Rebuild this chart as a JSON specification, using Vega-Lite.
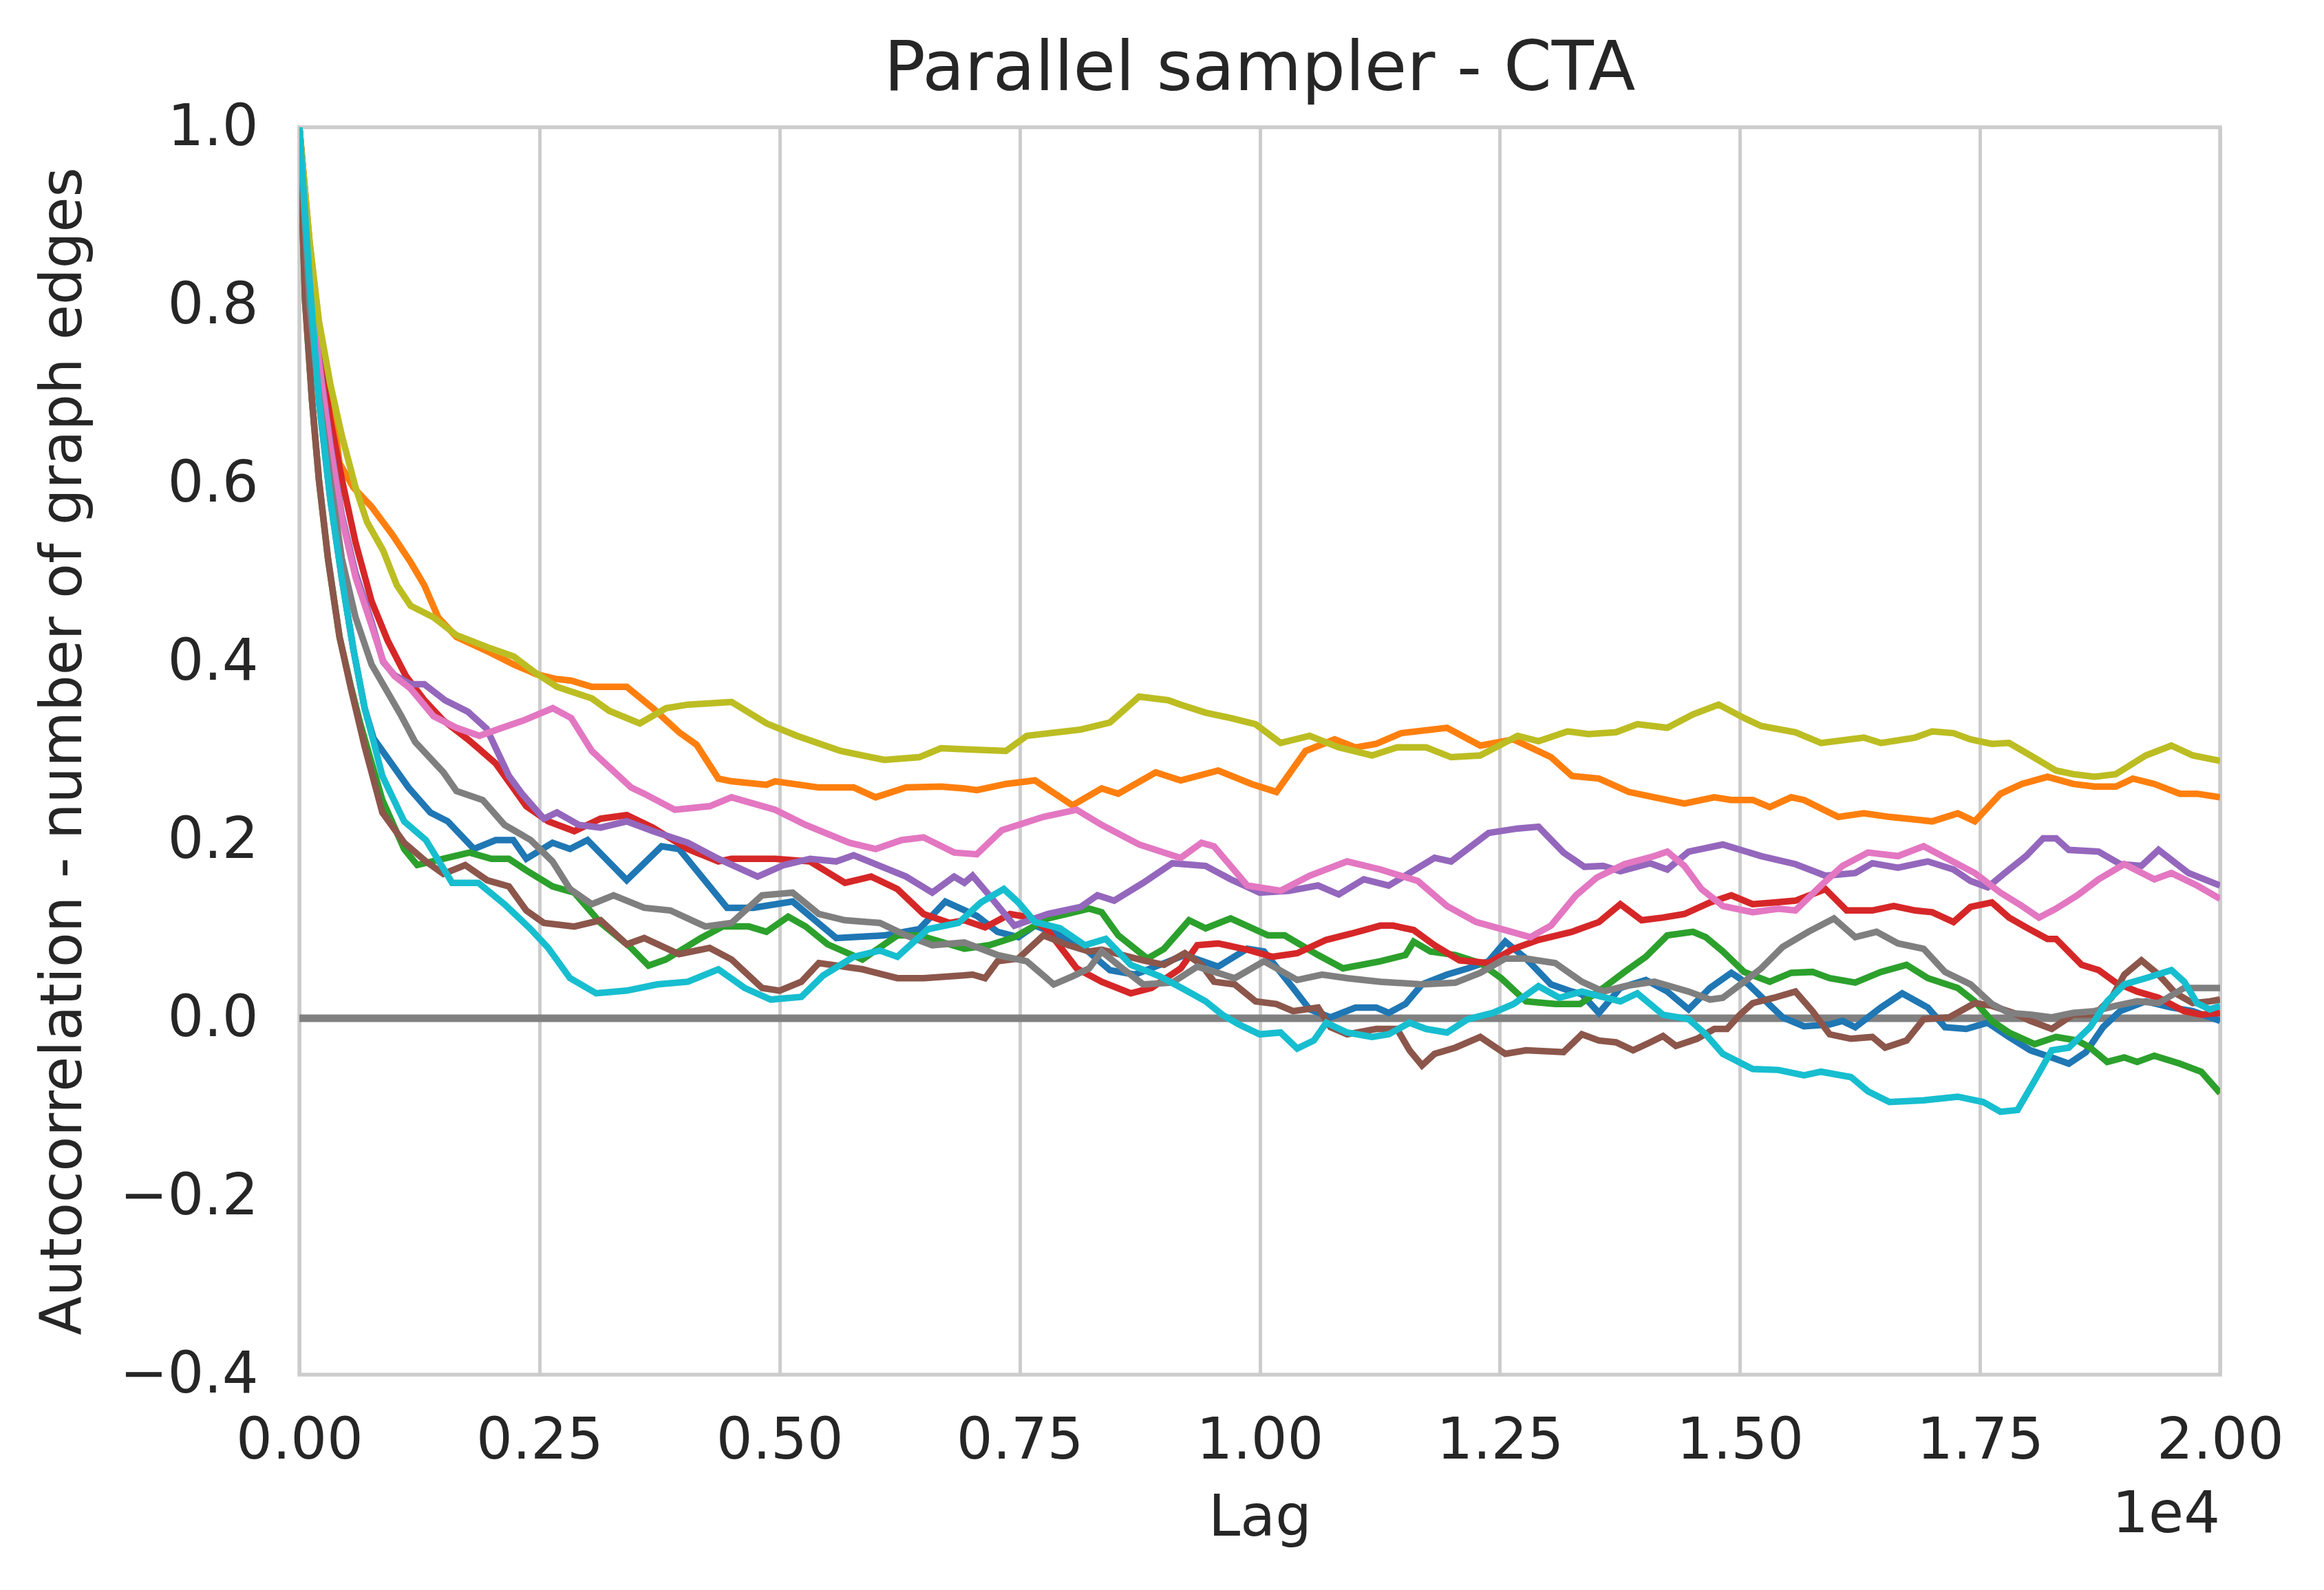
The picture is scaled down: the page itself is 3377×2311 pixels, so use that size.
{
  "$schema": "https://vega.github.io/schema/vega-lite/v6.json",
  "autosize": {"type": "none"},
  "padding": {"left": 435, "top": 185, "right": 151, "bottom": 313},
  "width": 2791,
  "height": 1813,
  "background": "white",
  "title": {"text": "Parallel sampler - CTA", "font": "DejaVu Sans", "fontSize": 100, "fontWeight": "normal", "color": "#262626", "anchor": "middle", "frame": "group", "offset": -8},
  "config": {
    "view": {"stroke": "#cccccc", "strokeWidth": 5.5},
    "axis": {"gridColor": "#cccccc", "gridWidth": 5, "domain": false, "ticks": false, "tickSize": 0, "labelFont": "DejaVu Sans", "labelFontSize": 83, "labelColor": "#262626", "labelLimit": 0, "titleFont": "DejaVu Sans", "titleFontSize": 83, "titleFontWeight": "normal", "titleColor": "#262626", "titleLimit": 0, "labelOverlap": false, "labelFlush": false, "labelBound": false}
  },
  "datasets": {
    "acf": [
      {"chain":"0","lag":0,"acf":1.0},{"chain":"0","lag":107,"acf":0.83},{"chain":"0","lag":203,"acf":0.694},{"chain":"0","lag":322,"acf":0.583},{"chain":"0","lag":442,"acf":0.494},{"chain":"0","lag":561,"acf":0.415},{"chain":"0","lag":680,"acf":0.348},{"chain":"0","lag":773,"acf":0.314},{"chain":"0","lag":1136,"acf":0.259},{"chain":"0","lag":1364,"acf":0.231},{"chain":"0","lag":1545,"acf":0.221},{"chain":"0","lag":1818,"acf":0.19},{"chain":"0","lag":2045,"acf":0.2},{"chain":"0","lag":2227,"acf":0.2},{"chain":"0","lag":2363,"acf":0.179},{"chain":"0","lag":2636,"acf":0.197},{"chain":"0","lag":2818,"acf":0.19},{"chain":"0","lag":3000,"acf":0.2},{"chain":"0","lag":3409,"acf":0.155},{"chain":"0","lag":3772,"acf":0.193},{"chain":"0","lag":3954,"acf":0.19},{"chain":"0","lag":4454,"acf":0.124},{"chain":"0","lag":4727,"acf":0.124},{"chain":"0","lag":5136,"acf":0.131},{"chain":"0","lag":5590,"acf":0.09},{"chain":"0","lag":6090,"acf":0.093},{"chain":"0","lag":6454,"acf":0.1},{"chain":"0","lag":6727,"acf":0.131},{"chain":"0","lag":7054,"acf":0.115},{"chain":"0","lag":7270,"acf":0.097},{"chain":"0","lag":7487,"acf":0.091},{"chain":"0","lag":7660,"acf":0.104},{"chain":"0","lag":7920,"acf":0.093},{"chain":"0","lag":8180,"acf":0.078},{"chain":"0","lag":8440,"acf":0.054},{"chain":"0","lag":8700,"acf":0.049},{"chain":"0","lag":8960,"acf":0.06},{"chain":"0","lag":9220,"acf":0.071},{"chain":"0","lag":9567,"acf":0.058},{"chain":"0","lag":9870,"acf":0.078},{"chain":"0","lag":10044,"acf":0.075},{"chain":"0","lag":10347,"acf":0.034},{"chain":"0","lag":10520,"acf":0.01},{"chain":"0","lag":10737,"acf":0.001},{"chain":"0","lag":10997,"acf":0.012},{"chain":"0","lag":11213,"acf":0.012},{"chain":"0","lag":11343,"acf":0.006},{"chain":"0","lag":11517,"acf":0.016},{"chain":"0","lag":11690,"acf":0.038},{"chain":"0","lag":11950,"acf":0.049},{"chain":"0","lag":12167,"acf":0.056},{"chain":"0","lag":12383,"acf":0.064},{"chain":"0","lag":12557,"acf":0.086},{"chain":"0","lag":12773,"acf":0.067},{"chain":"0","lag":13033,"acf":0.038},{"chain":"0","lag":13250,"acf":0.03},{"chain":"0","lag":13354,"acf":0.027},{"chain":"0","lag":13532,"acf":0.006},{"chain":"0","lag":13755,"acf":0.034},{"chain":"0","lag":14021,"acf":0.043},{"chain":"0","lag":14244,"acf":0.03},{"chain":"0","lag":14466,"acf":0.01},{"chain":"0","lag":14689,"acf":0.034},{"chain":"0","lag":14911,"acf":0.051},{"chain":"0","lag":15089,"acf":0.038},{"chain":"0","lag":15445,"acf":0.001},{"chain":"0","lag":15667,"acf":-0.009},{"chain":"0","lag":15934,"acf":-0.007},{"chain":"0","lag":16068,"acf":-0.003},{"chain":"0","lag":16201,"acf":-0.01},{"chain":"0","lag":16468,"acf":0.012},{"chain":"0","lag":16690,"acf":0.028},{"chain":"0","lag":16957,"acf":0.012},{"chain":"0","lag":17135,"acf":-0.01},{"chain":"0","lag":17357,"acf":-0.012},{"chain":"0","lag":17580,"acf":-0.005},{"chain":"0","lag":17802,"acf":-0.021},{"chain":"0","lag":18025,"acf":-0.036},{"chain":"0","lag":18247,"acf":-0.044},{"chain":"0","lag":18425,"acf":-0.051},{"chain":"0","lag":18603,"acf":-0.038},{"chain":"0","lag":18781,"acf":-0.01},{"chain":"0","lag":18959,"acf":0.008},{"chain":"0","lag":19226,"acf":0.019},{"chain":"0","lag":19493,"acf":0.012},{"chain":"0","lag":19715,"acf":0.008},{"chain":"0","lag":20000,"acf":-0.003},

      {"chain":"1","lag":0,"acf":1.0},{"chain":"1","lag":107,"acf":0.87},{"chain":"1","lag":203,"acf":0.78},{"chain":"1","lag":322,"acf":0.705},{"chain":"1","lag":418,"acf":0.623},{"chain":"1","lag":561,"acf":0.596},{"chain":"1","lag":752,"acf":0.574},{"chain":"1","lag":967,"acf":0.543},{"chain":"1","lag":1158,"acf":0.512},{"chain":"1","lag":1301,"acf":0.486},{"chain":"1","lag":1445,"acf":0.45},{"chain":"1","lag":1636,"acf":0.428},{"chain":"1","lag":1994,"acf":0.41},{"chain":"1","lag":2233,"acf":0.397},{"chain":"1","lag":2472,"acf":0.386},{"chain":"1","lag":2663,"acf":0.381},{"chain":"1","lag":2830,"acf":0.379},{"chain":"1","lag":3045,"acf":0.372},{"chain":"1","lag":3409,"acf":0.372},{"chain":"1","lag":3681,"acf":0.348},{"chain":"1","lag":3954,"acf":0.321},{"chain":"1","lag":4136,"acf":0.307},{"chain":"1","lag":4363,"acf":0.269},{"chain":"1","lag":4500,"acf":0.266},{"chain":"1","lag":4863,"acf":0.262},{"chain":"1","lag":4954,"acf":0.266},{"chain":"1","lag":5409,"acf":0.259},{"chain":"1","lag":5772,"acf":0.259},{"chain":"1","lag":6000,"acf":0.248},{"chain":"1","lag":6318,"acf":0.259},{"chain":"1","lag":6681,"acf":0.26},{"chain":"1","lag":6924,"acf":0.258},{"chain":"1","lag":7054,"acf":0.256},{"chain":"1","lag":7357,"acf":0.263},{"chain":"1","lag":7660,"acf":0.267},{"chain":"1","lag":8050,"acf":0.239},{"chain":"1","lag":8354,"acf":0.258},{"chain":"1","lag":8527,"acf":0.252},{"chain":"1","lag":8917,"acf":0.276},{"chain":"1","lag":9177,"acf":0.267},{"chain":"1","lag":9567,"acf":0.278},{"chain":"1","lag":9914,"acf":0.263},{"chain":"1","lag":10174,"acf":0.254},{"chain":"1","lag":10477,"acf":0.3},{"chain":"1","lag":10780,"acf":0.313},{"chain":"1","lag":10997,"acf":0.304},{"chain":"1","lag":11213,"acf":0.308},{"chain":"1","lag":11473,"acf":0.32},{"chain":"1","lag":11950,"acf":0.326},{"chain":"1","lag":12297,"acf":0.306},{"chain":"1","lag":12643,"acf":0.313},{"chain":"1","lag":13033,"acf":0.293},{"chain":"1","lag":13250,"acf":0.272},{"chain":"1","lag":13532,"acf":0.269},{"chain":"1","lag":13843,"acf":0.254},{"chain":"1","lag":14110,"acf":0.248},{"chain":"1","lag":14422,"acf":0.241},{"chain":"1","lag":14733,"acf":0.248},{"chain":"1","lag":14911,"acf":0.245},{"chain":"1","lag":15133,"acf":0.245},{"chain":"1","lag":15311,"acf":0.237},{"chain":"1","lag":15534,"acf":0.248},{"chain":"1","lag":15667,"acf":0.245},{"chain":"1","lag":16023,"acf":0.226},{"chain":"1","lag":16290,"acf":0.23},{"chain":"1","lag":16557,"acf":0.226},{"chain":"1","lag":17002,"acf":0.221},{"chain":"1","lag":17268,"acf":0.23},{"chain":"1","lag":17446,"acf":0.221},{"chain":"1","lag":17713,"acf":0.252},{"chain":"1","lag":17936,"acf":0.263},{"chain":"1","lag":18203,"acf":0.271},{"chain":"1","lag":18469,"acf":0.263},{"chain":"1","lag":18692,"acf":0.26},{"chain":"1","lag":18914,"acf":0.26},{"chain":"1","lag":19092,"acf":0.269},{"chain":"1","lag":19315,"acf":0.263},{"chain":"1","lag":19582,"acf":0.252},{"chain":"1","lag":19760,"acf":0.252},{"chain":"1","lag":20000,"acf":0.248},

      {"chain":"2","lag":0,"acf":1.0},{"chain":"2","lag":60,"acf":0.805},{"chain":"2","lag":131,"acf":0.694},{"chain":"2","lag":203,"acf":0.605},{"chain":"2","lag":298,"acf":0.516},{"chain":"2","lag":418,"acf":0.428},{"chain":"2","lag":537,"acf":0.372},{"chain":"2","lag":636,"acf":0.33},{"chain":"2","lag":864,"acf":0.245},{"chain":"2","lag":1091,"acf":0.19},{"chain":"2","lag":1227,"acf":0.172},{"chain":"2","lag":1500,"acf":0.179},{"chain":"2","lag":1773,"acf":0.186},{"chain":"2","lag":2000,"acf":0.179},{"chain":"2","lag":2182,"acf":0.179},{"chain":"2","lag":2363,"acf":0.166},{"chain":"2","lag":2636,"acf":0.148},{"chain":"2","lag":2863,"acf":0.141},{"chain":"2","lag":3136,"acf":0.107},{"chain":"2","lag":3454,"acf":0.079},{"chain":"2","lag":3636,"acf":0.059},{"chain":"2","lag":3818,"acf":0.066},{"chain":"2","lag":4181,"acf":0.09},{"chain":"2","lag":4409,"acf":0.103},{"chain":"2","lag":4681,"acf":0.103},{"chain":"2","lag":4863,"acf":0.097},{"chain":"2","lag":5090,"acf":0.114},{"chain":"2","lag":5272,"acf":0.103},{"chain":"2","lag":5500,"acf":0.083},{"chain":"2","lag":5863,"acf":0.066},{"chain":"2","lag":6227,"acf":0.093},{"chain":"2","lag":6454,"acf":0.093},{"chain":"2","lag":6924,"acf":0.078},{"chain":"2","lag":7184,"acf":0.082},{"chain":"2","lag":7444,"acf":0.091},{"chain":"2","lag":7790,"acf":0.112},{"chain":"2","lag":8224,"acf":0.123},{"chain":"2","lag":8354,"acf":0.119},{"chain":"2","lag":8527,"acf":0.093},{"chain":"2","lag":8830,"acf":0.067},{"chain":"2","lag":9004,"acf":0.078},{"chain":"2","lag":9264,"acf":0.11},{"chain":"2","lag":9437,"acf":0.101},{"chain":"2","lag":9697,"acf":0.112},{"chain":"2","lag":10087,"acf":0.093},{"chain":"2","lag":10260,"acf":0.093},{"chain":"2","lag":10607,"acf":0.071},{"chain":"2","lag":10867,"acf":0.056},{"chain":"2","lag":11257,"acf":0.064},{"chain":"2","lag":11517,"acf":0.071},{"chain":"2","lag":11603,"acf":0.086},{"chain":"2","lag":11777,"acf":0.075},{"chain":"2","lag":12037,"acf":0.071},{"chain":"2","lag":12297,"acf":0.062},{"chain":"2","lag":12513,"acf":0.045},{"chain":"2","lag":12773,"acf":0.019},{"chain":"2","lag":13077,"acf":0.016},{"chain":"2","lag":13337,"acf":0.016},{"chain":"2","lag":13577,"acf":0.034},{"chain":"2","lag":13799,"acf":0.052},{"chain":"2","lag":14021,"acf":0.069},{"chain":"2","lag":14244,"acf":0.093},{"chain":"2","lag":14511,"acf":0.097},{"chain":"2","lag":14644,"acf":0.091},{"chain":"2","lag":14822,"acf":0.075},{"chain":"2","lag":15044,"acf":0.052},{"chain":"2","lag":15311,"acf":0.041},{"chain":"2","lag":15534,"acf":0.051},{"chain":"2","lag":15756,"acf":0.052},{"chain":"2","lag":15934,"acf":0.045},{"chain":"2","lag":16201,"acf":0.04},{"chain":"2","lag":16468,"acf":0.052},{"chain":"2","lag":16735,"acf":0.06},{"chain":"2","lag":16957,"acf":0.045},{"chain":"2","lag":17268,"acf":0.034},{"chain":"2","lag":17446,"acf":0.019},{"chain":"2","lag":17624,"acf":-0.003},{"chain":"2","lag":17802,"acf":-0.016},{"chain":"2","lag":18069,"acf":-0.029},{"chain":"2","lag":18292,"acf":-0.021},{"chain":"2","lag":18514,"acf":-0.025},{"chain":"2","lag":18647,"acf":-0.033},{"chain":"2","lag":18825,"acf":-0.049},{"chain":"2","lag":19003,"acf":-0.044},{"chain":"2","lag":19137,"acf":-0.049},{"chain":"2","lag":19315,"acf":-0.042},{"chain":"2","lag":19582,"acf":-0.051},{"chain":"2","lag":19804,"acf":-0.06},{"chain":"2","lag":20000,"acf":-0.084},

      {"chain":"3","lag":0,"acf":1.0},{"chain":"3","lag":155,"acf":0.805},{"chain":"3","lag":227,"acf":0.738},{"chain":"3","lag":322,"acf":0.672},{"chain":"3","lag":442,"acf":0.605},{"chain":"3","lag":585,"acf":0.534},{"chain":"3","lag":752,"acf":0.468},{"chain":"3","lag":919,"acf":0.424},{"chain":"3","lag":1110,"acf":0.384},{"chain":"3","lag":1301,"acf":0.357},{"chain":"3","lag":1492,"acf":0.335},{"chain":"3","lag":1755,"acf":0.313},{"chain":"3","lag":1864,"acf":0.303},{"chain":"3","lag":2045,"acf":0.286},{"chain":"3","lag":2363,"acf":0.238},{"chain":"3","lag":2591,"acf":0.221},{"chain":"3","lag":2863,"acf":0.21},{"chain":"3","lag":3136,"acf":0.224},{"chain":"3","lag":3409,"acf":0.228},{"chain":"3","lag":3681,"acf":0.214},{"chain":"3","lag":4045,"acf":0.19},{"chain":"3","lag":4363,"acf":0.176},{"chain":"3","lag":4500,"acf":0.179},{"chain":"3","lag":4954,"acf":0.179},{"chain":"3","lag":5318,"acf":0.176},{"chain":"3","lag":5681,"acf":0.152},{"chain":"3","lag":5954,"acf":0.159},{"chain":"3","lag":6227,"acf":0.145},{"chain":"3","lag":6500,"acf":0.117},{"chain":"3","lag":6772,"acf":0.107},{"chain":"3","lag":6924,"acf":0.11},{"chain":"3","lag":7140,"acf":0.102},{"chain":"3","lag":7400,"acf":0.117},{"chain":"3","lag":7617,"acf":0.113},{"chain":"3","lag":7790,"acf":0.099},{"chain":"3","lag":8094,"acf":0.056},{"chain":"3","lag":8354,"acf":0.041},{"chain":"3","lag":8657,"acf":0.028},{"chain":"3","lag":8874,"acf":0.034},{"chain":"3","lag":9177,"acf":0.056},{"chain":"3","lag":9350,"acf":0.082},{"chain":"3","lag":9567,"acf":0.084},{"chain":"3","lag":9870,"acf":0.077},{"chain":"3","lag":10130,"acf":0.069},{"chain":"3","lag":10390,"acf":0.073},{"chain":"3","lag":10693,"acf":0.088},{"chain":"3","lag":10953,"acf":0.095},{"chain":"3","lag":11257,"acf":0.104},{"chain":"3","lag":11387,"acf":0.104},{"chain":"3","lag":11603,"acf":0.099},{"chain":"3","lag":11820,"acf":0.082},{"chain":"3","lag":12080,"acf":0.065},{"chain":"3","lag":12383,"acf":0.062},{"chain":"3","lag":12643,"acf":0.078},{"chain":"3","lag":12903,"acf":0.088},{"chain":"3","lag":13250,"acf":0.097},{"chain":"3","lag":13532,"acf":0.108},{"chain":"3","lag":13755,"acf":0.128},{"chain":"3","lag":13977,"acf":0.11},{"chain":"3","lag":14199,"acf":0.113},{"chain":"3","lag":14422,"acf":0.117},{"chain":"3","lag":14689,"acf":0.13},{"chain":"3","lag":14911,"acf":0.138},{"chain":"3","lag":15133,"acf":0.128},{"chain":"3","lag":15356,"acf":0.13},{"chain":"3","lag":15578,"acf":0.132},{"chain":"3","lag":15890,"acf":0.145},{"chain":"3","lag":16112,"acf":0.121},{"chain":"3","lag":16379,"acf":0.121},{"chain":"3","lag":16601,"acf":0.126},{"chain":"3","lag":16824,"acf":0.121},{"chain":"3","lag":17002,"acf":0.119},{"chain":"3","lag":17224,"acf":0.108},{"chain":"3","lag":17402,"acf":0.125},{"chain":"3","lag":17624,"acf":0.13},{"chain":"3","lag":17802,"acf":0.113},{"chain":"3","lag":17980,"acf":0.102},{"chain":"3","lag":18203,"acf":0.089},{"chain":"3","lag":18292,"acf":0.089},{"chain":"3","lag":18558,"acf":0.06},{"chain":"3","lag":18736,"acf":0.054},{"chain":"3","lag":18914,"acf":0.04},{"chain":"3","lag":19137,"acf":0.03},{"chain":"3","lag":19359,"acf":0.023},{"chain":"3","lag":19626,"acf":0.008},{"chain":"3","lag":19804,"acf":0.004},{"chain":"3","lag":20000,"acf":0.006},

      {"chain":"4","lag":0,"acf":1.0},{"chain":"4","lag":110,"acf":0.82},{"chain":"4","lag":227,"acf":0.72},{"chain":"4","lag":322,"acf":0.645},{"chain":"4","lag":442,"acf":0.565},{"chain":"4","lag":585,"acf":0.5},{"chain":"4","lag":752,"acf":0.445},{"chain":"4","lag":872,"acf":0.4},{"chain":"4","lag":991,"acf":0.385},{"chain":"4","lag":1158,"acf":0.375},{"chain":"4","lag":1301,"acf":0.375},{"chain":"4","lag":1516,"acf":0.357},{"chain":"4","lag":1755,"acf":0.344},{"chain":"4","lag":1950,"acf":0.325},{"chain":"4","lag":2182,"acf":0.272},{"chain":"4","lag":2318,"acf":0.252},{"chain":"4","lag":2545,"acf":0.224},{"chain":"4","lag":2682,"acf":0.231},{"chain":"4","lag":2909,"acf":0.217},{"chain":"4","lag":3136,"acf":0.214},{"chain":"4","lag":3409,"acf":0.221},{"chain":"4","lag":3681,"acf":0.21},{"chain":"4","lag":4045,"acf":0.197},{"chain":"4","lag":4363,"acf":0.179},{"chain":"4","lag":4772,"acf":0.159},{"chain":"4","lag":5045,"acf":0.172},{"chain":"4","lag":5318,"acf":0.179},{"chain":"4","lag":5590,"acf":0.176},{"chain":"4","lag":5772,"acf":0.183},{"chain":"4","lag":6318,"acf":0.159},{"chain":"4","lag":6590,"acf":0.141},{"chain":"4","lag":6818,"acf":0.159},{"chain":"4","lag":6924,"acf":0.152},{"chain":"4","lag":7010,"acf":0.16},{"chain":"4","lag":7184,"acf":0.138},{"chain":"4","lag":7444,"acf":0.104},{"chain":"4","lag":7790,"acf":0.117},{"chain":"4","lag":8137,"acf":0.125},{"chain":"4","lag":8310,"acf":0.138},{"chain":"4","lag":8484,"acf":0.132},{"chain":"4","lag":8787,"acf":0.152},{"chain":"4","lag":9090,"acf":0.174},{"chain":"4","lag":9437,"acf":0.171},{"chain":"4","lag":9697,"acf":0.156},{"chain":"4","lag":10000,"acf":0.141},{"chain":"4","lag":10303,"acf":0.143},{"chain":"4","lag":10607,"acf":0.149},{"chain":"4","lag":10823,"acf":0.139},{"chain":"4","lag":11083,"acf":0.156},{"chain":"4","lag":11343,"acf":0.149},{"chain":"4","lag":11560,"acf":0.163},{"chain":"4","lag":11820,"acf":0.18},{"chain":"4","lag":11993,"acf":0.176},{"chain":"4","lag":12383,"acf":0.208},{"chain":"4","lag":12687,"acf":0.213},{"chain":"4","lag":12903,"acf":0.215},{"chain":"4","lag":13163,"acf":0.186},{"chain":"4","lag":13380,"acf":0.17},{"chain":"4","lag":13577,"acf":0.171},{"chain":"4","lag":13755,"acf":0.165},{"chain":"4","lag":14066,"acf":0.174},{"chain":"4","lag":14244,"acf":0.167},{"chain":"4","lag":14466,"acf":0.187},{"chain":"4","lag":14822,"acf":0.195},{"chain":"4","lag":15222,"acf":0.182},{"chain":"4","lag":15578,"acf":0.173},{"chain":"4","lag":15890,"acf":0.16},{"chain":"4","lag":16201,"acf":0.163},{"chain":"4","lag":16379,"acf":0.174},{"chain":"4","lag":16646,"acf":0.169},{"chain":"4","lag":16957,"acf":0.176},{"chain":"4","lag":17224,"acf":0.167},{"chain":"4","lag":17402,"acf":0.154},{"chain":"4","lag":17580,"acf":0.147},{"chain":"4","lag":17758,"acf":0.163},{"chain":"4","lag":17980,"acf":0.182},{"chain":"4","lag":18158,"acf":0.202},{"chain":"4","lag":18292,"acf":0.202},{"chain":"4","lag":18425,"acf":0.189},{"chain":"4","lag":18736,"acf":0.187},{"chain":"4","lag":18959,"acf":0.173},{"chain":"4","lag":19181,"acf":0.171},{"chain":"4","lag":19359,"acf":0.189},{"chain":"4","lag":19671,"acf":0.163},{"chain":"4","lag":20000,"acf":0.149},

      {"chain":"5","lag":0,"acf":1.0},{"chain":"5","lag":60,"acf":0.805},{"chain":"5","lag":131,"acf":0.694},{"chain":"5","lag":203,"acf":0.605},{"chain":"5","lag":298,"acf":0.516},{"chain":"5","lag":418,"acf":0.428},{"chain":"5","lag":537,"acf":0.37},{"chain":"5","lag":680,"acf":0.305},{"chain":"5","lag":864,"acf":0.231},{"chain":"5","lag":1091,"acf":0.197},{"chain":"5","lag":1318,"acf":0.176},{"chain":"5","lag":1500,"acf":0.162},{"chain":"5","lag":1727,"acf":0.172},{"chain":"5","lag":1954,"acf":0.155},{"chain":"5","lag":2182,"acf":0.148},{"chain":"5","lag":2363,"acf":0.121},{"chain":"5","lag":2545,"acf":0.107},{"chain":"5","lag":2863,"acf":0.103},{"chain":"5","lag":3136,"acf":0.11},{"chain":"5","lag":3409,"acf":0.083},{"chain":"5","lag":3591,"acf":0.09},{"chain":"5","lag":3954,"acf":0.072},{"chain":"5","lag":4272,"acf":0.079},{"chain":"5","lag":4500,"acf":0.066},{"chain":"5","lag":4818,"acf":0.034},{"chain":"5","lag":5000,"acf":0.031},{"chain":"5","lag":5227,"acf":0.041},{"chain":"5","lag":5409,"acf":0.062},{"chain":"5","lag":5863,"acf":0.055},{"chain":"5","lag":6227,"acf":0.045},{"chain":"5","lag":6500,"acf":0.045},{"chain":"5","lag":6909,"acf":0.048},{"chain":"5","lag":7010,"acf":0.049},{"chain":"5","lag":7140,"acf":0.045},{"chain":"5","lag":7270,"acf":0.064},{"chain":"5","lag":7487,"acf":0.067},{"chain":"5","lag":7747,"acf":0.093},{"chain":"5","lag":8007,"acf":0.082},{"chain":"5","lag":8224,"acf":0.075},{"chain":"5","lag":8354,"acf":0.077},{"chain":"5","lag":8570,"acf":0.071},{"chain":"5","lag":8787,"acf":0.065},{"chain":"5","lag":9004,"acf":0.06},{"chain":"5","lag":9220,"acf":0.073},{"chain":"5","lag":9394,"acf":0.06},{"chain":"5","lag":9524,"acf":0.041},{"chain":"5","lag":9740,"acf":0.038},{"chain":"5","lag":9957,"acf":0.019},{"chain":"5","lag":10174,"acf":0.016},{"chain":"5","lag":10347,"acf":0.008},{"chain":"5","lag":10607,"acf":0.012},{"chain":"5","lag":10737,"acf":-0.01},{"chain":"5","lag":10910,"acf":-0.018},{"chain":"5","lag":11213,"acf":-0.012},{"chain":"5","lag":11430,"acf":-0.012},{"chain":"5","lag":11560,"acf":-0.036},{"chain":"5","lag":11690,"acf":-0.053},{"chain":"5","lag":11820,"acf":-0.04},{"chain":"5","lag":12037,"acf":-0.033},{"chain":"5","lag":12297,"acf":-0.021},{"chain":"5","lag":12557,"acf":-0.04},{"chain":"5","lag":12773,"acf":-0.036},{"chain":"5","lag":13163,"acf":-0.038},{"chain":"5","lag":13354,"acf":-0.018},{"chain":"5","lag":13532,"acf":-0.025},{"chain":"5","lag":13710,"acf":-0.027},{"chain":"5","lag":13888,"acf":-0.036},{"chain":"5","lag":14066,"acf":-0.027},{"chain":"5","lag":14199,"acf":-0.02},{"chain":"5","lag":14333,"acf":-0.031},{"chain":"5","lag":14555,"acf":-0.023},{"chain":"5","lag":14733,"acf":-0.012},{"chain":"5","lag":14866,"acf":-0.012},{"chain":"5","lag":15000,"acf":0.004},{"chain":"5","lag":15133,"acf":0.017},{"chain":"5","lag":15356,"acf":0.023},{"chain":"5","lag":15578,"acf":0.03},{"chain":"5","lag":15756,"acf":0.008},{"chain":"5","lag":15934,"acf":-0.018},{"chain":"5","lag":16156,"acf":-0.023},{"chain":"5","lag":16379,"acf":-0.021},{"chain":"5","lag":16512,"acf":-0.033},{"chain":"5","lag":16735,"acf":-0.025},{"chain":"5","lag":16913,"acf":-0.001},{"chain":"5","lag":17180,"acf":0.001},{"chain":"5","lag":17446,"acf":0.017},{"chain":"5","lag":17624,"acf":0.014},{"chain":"5","lag":17847,"acf":0.006},{"chain":"5","lag":18025,"acf":-0.003},{"chain":"5","lag":18247,"acf":-0.012},{"chain":"5","lag":18469,"acf":0.004},{"chain":"5","lag":18692,"acf":0.004},{"chain":"5","lag":18870,"acf":0.023},{"chain":"5","lag":19003,"acf":0.049},{"chain":"5","lag":19181,"acf":0.065},{"chain":"5","lag":19359,"acf":0.049},{"chain":"5","lag":19537,"acf":0.028},{"chain":"5","lag":19715,"acf":0.017},{"chain":"5","lag":19893,"acf":0.019},{"chain":"5","lag":20000,"acf":0.021},

      {"chain":"6","lag":0,"acf":1.0},{"chain":"6","lag":110,"acf":0.82},{"chain":"6","lag":227,"acf":0.716},{"chain":"6","lag":322,"acf":0.641},{"chain":"6","lag":442,"acf":0.561},{"chain":"6","lag":585,"acf":0.495},{"chain":"6","lag":752,"acf":0.441},{"chain":"6","lag":872,"acf":0.401},{"chain":"6","lag":991,"acf":0.384},{"chain":"6","lag":1158,"acf":0.37},{"chain":"6","lag":1397,"acf":0.339},{"chain":"6","lag":1636,"acf":0.326},{"chain":"6","lag":1875,"acf":0.317},{"chain":"6","lag":2113,"acf":0.326},{"chain":"6","lag":2352,"acf":0.335},{"chain":"6","lag":2639,"acf":0.348},{"chain":"6","lag":2830,"acf":0.337},{"chain":"6","lag":3045,"acf":0.3},{"chain":"6","lag":3454,"acf":0.259},{"chain":"6","lag":3591,"acf":0.252},{"chain":"6","lag":3909,"acf":0.234},{"chain":"6","lag":4272,"acf":0.238},{"chain":"6","lag":4500,"acf":0.248},{"chain":"6","lag":4954,"acf":0.234},{"chain":"6","lag":5272,"acf":0.217},{"chain":"6","lag":5727,"acf":0.197},{"chain":"6","lag":6000,"acf":0.19},{"chain":"6","lag":6272,"acf":0.2},{"chain":"6","lag":6500,"acf":0.203},{"chain":"6","lag":6818,"acf":0.186},{"chain":"6","lag":7054,"acf":0.184},{"chain":"6","lag":7314,"acf":0.211},{"chain":"6","lag":7747,"acf":0.226},{"chain":"6","lag":8094,"acf":0.234},{"chain":"6","lag":8354,"acf":0.217},{"chain":"6","lag":8744,"acf":0.195},{"chain":"6","lag":9177,"acf":0.18},{"chain":"6","lag":9394,"acf":0.197},{"chain":"6","lag":9524,"acf":0.193},{"chain":"6","lag":9870,"acf":0.149},{"chain":"6","lag":10217,"acf":0.143},{"chain":"6","lag":10520,"acf":0.16},{"chain":"6","lag":10910,"acf":0.176},{"chain":"6","lag":11257,"acf":0.167},{"chain":"6","lag":11647,"acf":0.154},{"chain":"6","lag":11950,"acf":0.126},{"chain":"6","lag":12253,"acf":0.108},{"chain":"6","lag":12557,"acf":0.099},{"chain":"6","lag":12817,"acf":0.091},{"chain":"6","lag":13033,"acf":0.104},{"chain":"6","lag":13293,"acf":0.138},{"chain":"6","lag":13510,"acf":0.158},{"chain":"6","lag":13799,"acf":0.173},{"chain":"6","lag":14110,"acf":0.182},{"chain":"6","lag":14244,"acf":0.187},{"chain":"6","lag":14422,"acf":0.171},{"chain":"6","lag":14600,"acf":0.145},{"chain":"6","lag":14822,"acf":0.126},{"chain":"6","lag":15133,"acf":0.119},{"chain":"6","lag":15400,"acf":0.123},{"chain":"6","lag":15578,"acf":0.121},{"chain":"6","lag":15845,"acf":0.149},{"chain":"6","lag":16068,"acf":0.171},{"chain":"6","lag":16334,"acf":0.186},{"chain":"6","lag":16646,"acf":0.182},{"chain":"6","lag":16913,"acf":0.193},{"chain":"6","lag":17180,"acf":0.178},{"chain":"6","lag":17446,"acf":0.163},{"chain":"6","lag":17713,"acf":0.141},{"chain":"6","lag":17936,"acf":0.126},{"chain":"6","lag":18114,"acf":0.113},{"chain":"6","lag":18292,"acf":0.123},{"chain":"6","lag":18514,"acf":0.138},{"chain":"6","lag":18736,"acf":0.156},{"chain":"6","lag":19003,"acf":0.173},{"chain":"6","lag":19315,"acf":0.156},{"chain":"6","lag":19493,"acf":0.163},{"chain":"6","lag":19760,"acf":0.149},{"chain":"6","lag":20000,"acf":0.134},

      {"chain":"7","lag":0,"acf":1.0},{"chain":"7","lag":107,"acf":0.8},{"chain":"7","lag":203,"acf":0.7},{"chain":"7","lag":322,"acf":0.605},{"chain":"7","lag":442,"acf":0.516},{"chain":"7","lag":585,"acf":0.45},{"chain":"7","lag":752,"acf":0.397},{"chain":"7","lag":919,"acf":0.366},{"chain":"7","lag":1063,"acf":0.339},{"chain":"7","lag":1206,"acf":0.31},{"chain":"7","lag":1500,"acf":0.276},{"chain":"7","lag":1636,"acf":0.255},{"chain":"7","lag":1909,"acf":0.245},{"chain":"7","lag":2136,"acf":0.217},{"chain":"7","lag":2409,"acf":0.2},{"chain":"7","lag":2636,"acf":0.176},{"chain":"7","lag":2818,"acf":0.145},{"chain":"7","lag":3045,"acf":0.128},{"chain":"7","lag":3272,"acf":0.138},{"chain":"7","lag":3591,"acf":0.124},{"chain":"7","lag":3863,"acf":0.121},{"chain":"7","lag":4227,"acf":0.103},{"chain":"7","lag":4500,"acf":0.107},{"chain":"7","lag":4818,"acf":0.138},{"chain":"7","lag":5136,"acf":0.141},{"chain":"7","lag":5409,"acf":0.117},{"chain":"7","lag":5681,"acf":0.11},{"chain":"7","lag":6045,"acf":0.107},{"chain":"7","lag":6318,"acf":0.093},{"chain":"7","lag":6590,"acf":0.082},{"chain":"7","lag":6924,"acf":0.085},{"chain":"7","lag":7270,"acf":0.071},{"chain":"7","lag":7574,"acf":0.064},{"chain":"7","lag":7855,"acf":0.038},{"chain":"7","lag":8050,"acf":0.047},{"chain":"7","lag":8224,"acf":0.056},{"chain":"7","lag":8354,"acf":0.075},{"chain":"7","lag":8570,"acf":0.056},{"chain":"7","lag":8787,"acf":0.038},{"chain":"7","lag":9090,"acf":0.04},{"chain":"7","lag":9350,"acf":0.058},{"chain":"7","lag":9740,"acf":0.045},{"chain":"7","lag":10044,"acf":0.064},{"chain":"7","lag":10390,"acf":0.043},{"chain":"7","lag":10650,"acf":0.049},{"chain":"7","lag":10910,"acf":0.045},{"chain":"7","lag":11257,"acf":0.041},{"chain":"7","lag":11690,"acf":0.038},{"chain":"7","lag":12037,"acf":0.04},{"chain":"7","lag":12297,"acf":0.051},{"chain":"7","lag":12557,"acf":0.067},{"chain":"7","lag":12773,"acf":0.067},{"chain":"7","lag":13077,"acf":0.062},{"chain":"7","lag":13354,"acf":0.041},{"chain":"7","lag":13577,"acf":0.03},{"chain":"7","lag":13799,"acf":0.036},{"chain":"7","lag":14110,"acf":0.041},{"chain":"7","lag":14466,"acf":0.03},{"chain":"7","lag":14689,"acf":0.021},{"chain":"7","lag":14822,"acf":0.023},{"chain":"7","lag":15044,"acf":0.041},{"chain":"7","lag":15222,"acf":0.056},{"chain":"7","lag":15445,"acf":0.08},{"chain":"7","lag":15712,"acf":0.097},{"chain":"7","lag":15979,"acf":0.112},{"chain":"7","lag":16201,"acf":0.091},{"chain":"7","lag":16423,"acf":0.097},{"chain":"7","lag":16646,"acf":0.084},{"chain":"7","lag":16913,"acf":0.078},{"chain":"7","lag":17135,"acf":0.052},{"chain":"7","lag":17402,"acf":0.038},{"chain":"7","lag":17624,"acf":0.016},{"chain":"7","lag":17802,"acf":0.006},{"chain":"7","lag":18025,"acf":0.004},{"chain":"7","lag":18247,"acf":0.001},{"chain":"7","lag":18469,"acf":0.006},{"chain":"7","lag":18692,"acf":0.008},{"chain":"7","lag":18914,"acf":0.014},{"chain":"7","lag":19137,"acf":0.019},{"chain":"7","lag":19359,"acf":0.017},{"chain":"7","lag":19626,"acf":0.034},{"chain":"7","lag":20000,"acf":0.034},

      {"chain":"8","lag":0,"acf":1.0},{"chain":"8","lag":107,"acf":0.871},{"chain":"8","lag":203,"acf":0.783},{"chain":"8","lag":322,"acf":0.712},{"chain":"8","lag":442,"acf":0.654},{"chain":"8","lag":585,"acf":0.596},{"chain":"8","lag":704,"acf":0.557},{"chain":"8","lag":872,"acf":0.525},{"chain":"8","lag":1015,"acf":0.486},{"chain":"8","lag":1158,"acf":0.463},{"chain":"8","lag":1397,"acf":0.45},{"chain":"8","lag":1636,"acf":0.43},{"chain":"8","lag":1994,"acf":0.415},{"chain":"8","lag":2233,"acf":0.406},{"chain":"8","lag":2454,"acf":0.388},{"chain":"8","lag":2682,"acf":0.372},{"chain":"8","lag":3045,"acf":0.359},{"chain":"8","lag":3227,"acf":0.345},{"chain":"8","lag":3545,"acf":0.331},{"chain":"8","lag":3818,"acf":0.348},{"chain":"8","lag":4045,"acf":0.352},{"chain":"8","lag":4500,"acf":0.355},{"chain":"8","lag":4863,"acf":0.331},{"chain":"8","lag":5181,"acf":0.317},{"chain":"8","lag":5636,"acf":0.3},{"chain":"8","lag":6090,"acf":0.29},{"chain":"8","lag":6454,"acf":0.293},{"chain":"8","lag":6681,"acf":0.303},{"chain":"8","lag":6924,"acf":0.302},{"chain":"8","lag":7357,"acf":0.3},{"chain":"8","lag":7574,"acf":0.317},{"chain":"8","lag":8137,"acf":0.324},{"chain":"8","lag":8440,"acf":0.332},{"chain":"8","lag":8744,"acf":0.361},{"chain":"8","lag":9047,"acf":0.357},{"chain":"8","lag":9177,"acf":0.352},{"chain":"8","lag":9437,"acf":0.343},{"chain":"8","lag":9697,"acf":0.337},{"chain":"8","lag":9957,"acf":0.33},{"chain":"8","lag":10217,"acf":0.309},{"chain":"8","lag":10520,"acf":0.317},{"chain":"8","lag":10823,"acf":0.304},{"chain":"8","lag":11170,"acf":0.295},{"chain":"8","lag":11430,"acf":0.304},{"chain":"8","lag":11733,"acf":0.304},{"chain":"8","lag":11993,"acf":0.293},{"chain":"8","lag":12296,"acf":0.295},{"chain":"8","lag":12686,"acf":0.317},{"chain":"8","lag":12903,"acf":0.311},{"chain":"8","lag":13206,"acf":0.322},{"chain":"8","lag":13423,"acf":0.319},{"chain":"8","lag":13710,"acf":0.321},{"chain":"8","lag":13932,"acf":0.33},{"chain":"8","lag":14244,"acf":0.326},{"chain":"8","lag":14511,"acf":0.341},{"chain":"8","lag":14778,"acf":0.352},{"chain":"8","lag":15044,"acf":0.337},{"chain":"8","lag":15222,"acf":0.328},{"chain":"8","lag":15578,"acf":0.321},{"chain":"8","lag":15845,"acf":0.309},{"chain":"8","lag":16290,"acf":0.315},{"chain":"8","lag":16468,"acf":0.309},{"chain":"8","lag":16824,"acf":0.315},{"chain":"8","lag":17002,"acf":0.322},{"chain":"8","lag":17224,"acf":0.32},{"chain":"8","lag":17402,"acf":0.313},{"chain":"8","lag":17624,"acf":0.308},{"chain":"8","lag":17802,"acf":0.309},{"chain":"8","lag":18025,"acf":0.295},{"chain":"8","lag":18292,"acf":0.278},{"chain":"8","lag":18469,"acf":0.274},{"chain":"8","lag":18692,"acf":0.271},{"chain":"8","lag":18914,"acf":0.274},{"chain":"8","lag":19226,"acf":0.295},{"chain":"8","lag":19493,"acf":0.306},{"chain":"8","lag":19715,"acf":0.295},{"chain":"8","lag":20000,"acf":0.289},

      {"chain":"9","lag":0,"acf":1.0},{"chain":"9","lag":107,"acf":0.827},{"chain":"9","lag":203,"acf":0.694},{"chain":"9","lag":322,"acf":0.583},{"chain":"9","lag":442,"acf":0.494},{"chain":"9","lag":561,"acf":0.415},{"chain":"9","lag":680,"acf":0.348},{"chain":"9","lag":776,"acf":0.309},{"chain":"9","lag":864,"acf":0.272},{"chain":"9","lag":1091,"acf":0.221},{"chain":"9","lag":1318,"acf":0.2},{"chain":"9","lag":1591,"acf":0.152},{"chain":"9","lag":1864,"acf":0.152},{"chain":"9","lag":2136,"acf":0.128},{"chain":"9","lag":2409,"acf":0.1},{"chain":"9","lag":2591,"acf":0.079},{"chain":"9","lag":2818,"acf":0.045},{"chain":"9","lag":3091,"acf":0.028},{"chain":"9","lag":3409,"acf":0.031},{"chain":"9","lag":3727,"acf":0.038},{"chain":"9","lag":4045,"acf":0.041},{"chain":"9","lag":4363,"acf":0.055},{"chain":"9","lag":4636,"acf":0.034},{"chain":"9","lag":4909,"acf":0.021},{"chain":"9","lag":5227,"acf":0.024},{"chain":"9","lag":5454,"acf":0.048},{"chain":"9","lag":5772,"acf":0.069},{"chain":"9","lag":6045,"acf":0.076},{"chain":"9","lag":6227,"acf":0.069},{"chain":"9","lag":6545,"acf":0.1},{"chain":"9","lag":6863,"acf":0.107},{"chain":"9","lag":7097,"acf":0.13},{"chain":"9","lag":7335,"acf":0.145},{"chain":"9","lag":7487,"acf":0.13},{"chain":"9","lag":7660,"acf":0.108},{"chain":"9","lag":7920,"acf":0.101},{"chain":"9","lag":8180,"acf":0.082},{"chain":"9","lag":8397,"acf":0.089},{"chain":"9","lag":8657,"acf":0.06},{"chain":"9","lag":8960,"acf":0.047},{"chain":"9","lag":9220,"acf":0.032},{"chain":"9","lag":9437,"acf":0.019},{"chain":"9","lag":9610,"acf":0.004},{"chain":"9","lag":9784,"acf":-0.007},{"chain":"9","lag":10000,"acf":-0.018},{"chain":"9","lag":10217,"acf":-0.016},{"chain":"9","lag":10390,"acf":-0.034},{"chain":"9","lag":10563,"acf":-0.025},{"chain":"9","lag":10693,"acf":-0.005},{"chain":"9","lag":10910,"acf":-0.016},{"chain":"9","lag":11170,"acf":-0.021},{"chain":"9","lag":11343,"acf":-0.018},{"chain":"9","lag":11560,"acf":-0.005},{"chain":"9","lag":11733,"acf":-0.012},{"chain":"9","lag":11950,"acf":-0.016},{"chain":"9","lag":12167,"acf":-0.001},{"chain":"9","lag":12427,"acf":0.006},{"chain":"9","lag":12643,"acf":0.016},{"chain":"9","lag":12903,"acf":0.036},{"chain":"9","lag":13120,"acf":0.023},{"chain":"9","lag":13354,"acf":0.03},{"chain":"9","lag":13532,"acf":0.025},{"chain":"9","lag":13755,"acf":0.019},{"chain":"9","lag":13932,"acf":0.028},{"chain":"9","lag":14199,"acf":0.004},{"chain":"9","lag":14466,"acf":-0.001},{"chain":"9","lag":14644,"acf":-0.018},{"chain":"9","lag":14822,"acf":-0.04},{"chain":"9","lag":15133,"acf":-0.057},{"chain":"9","lag":15400,"acf":-0.058},{"chain":"9","lag":15667,"acf":-0.064},{"chain":"9","lag":15845,"acf":-0.06},{"chain":"9","lag":16156,"acf":-0.066},{"chain":"9","lag":16334,"acf":-0.082},{"chain":"9","lag":16557,"acf":-0.094},{"chain":"9","lag":16913,"acf":-0.092},{"chain":"9","lag":17268,"acf":-0.088},{"chain":"9","lag":17535,"acf":-0.094},{"chain":"9","lag":17713,"acf":-0.105},{"chain":"9","lag":17891,"acf":-0.103},{"chain":"9","lag":18069,"acf":-0.07},{"chain":"9","lag":18247,"acf":-0.036},{"chain":"9","lag":18425,"acf":-0.033},{"chain":"9","lag":18647,"acf":-0.01},{"chain":"9","lag":18825,"acf":0.019},{"chain":"9","lag":19003,"acf":0.038},{"chain":"9","lag":19226,"acf":0.045},{"chain":"9","lag":19493,"acf":0.054},{"chain":"9","lag":19626,"acf":0.041},{"chain":"9","lag":19760,"acf":0.017},{"chain":"9","lag":19893,"acf":0.01},{"chain":"9","lag":20000,"acf":0.014}
    ],
    "offset": [{"label": "1e4", "lag": 20000, "acf": -0.4}]
  },
  "layer": [
    {
      "data": {"name": "offset"},
      "mark": {"type": "rule", "color": "#808080", "strokeWidth": 11},
      "encoding": {"y": {"datum": 0, "type": "quantitative"}}
    },
    {
      "data": {"name": "acf"},
      "mark": {"type": "line", "strokeWidth": 9.5, "clip": true},
      "encoding": {
        "x": {"field": "lag", "type": "quantitative", "title": "Lag",
              "scale": {"domain": [0, 20000], "nice": false, "zero": false},
              "axis": {"values": [0, 2500, 5000, 7500, 10000, 12500, 15000, 17500, 20000], "labelExpr": "format(datum.value / 10000, '.2f')", "labelPadding": 55, "titlePadding": 95, "titleBaseline": "alphabetic"}},
        "y": {"field": "acf", "type": "quantitative", "title": "Autocorrelation - number of graph edges",
              "scale": {"domain": [-0.4, 1.0], "nice": false, "zero": false},
              "axis": {"values": [-0.4, -0.2, 0, 0.2, 0.4, 0.6, 0.8, 1.0], "format": ".1f", "labelPadding": 60, "titlePadding": 118, "titleBaseline": "alphabetic"}},
        "color": {"field": "chain", "type": "nominal", "legend": null,
                  "scale": {"domain": ["0","1","2","3","4","5","6","7","8","9"], "range": ["#1f77b4","#ff7f0e","#2ca02c","#d62728","#9467bd","#8c564b","#e377c2","#7f7f7f","#bcbd22","#17becf"]}},
        "order": {"field": "lag", "type": "quantitative"}
      }
    },
    {
      "data": {"name": "offset"},
      "mark": {"type": "text", "align": "right", "baseline": "alphabetic", "dy": 229, "font": "DejaVu Sans", "fontSize": 83, "color": "#262626"},
      "encoding": {"x": {"field": "lag", "type": "quantitative"}, "y": {"field": "acf", "type": "quantitative"}, "text": {"field": "label", "type": "nominal"}}
    }
  ]
}
